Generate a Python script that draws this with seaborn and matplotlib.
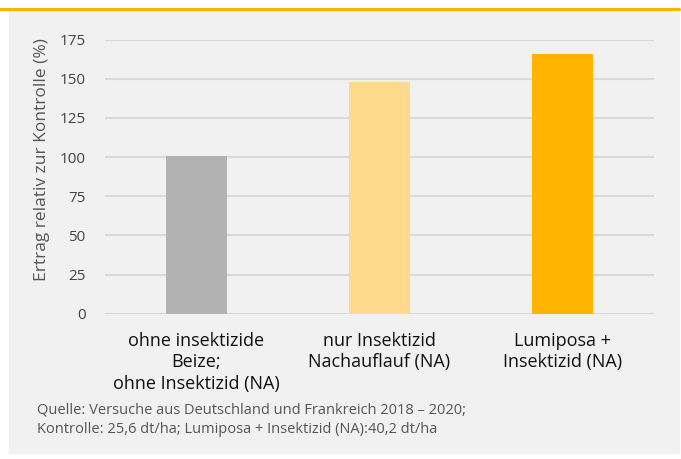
import matplotlib
matplotlib.use("Agg")
import matplotlib.pyplot as plt
import seaborn as sns
import pandas as pd

categories = ["ohne insektizide\nBeize;\nohne Insektizid (NA)",
              "nur Insektizid\nNachauflauf (NA)",
              "Lumiposa +\nInsektizid (NA)"]
values = [101, 148, 166]
bar_colors = ["#b2b2b2", "#ffd98c", "#ffb400"]
yticks = [0, 25, 50, 75, 100, 125, 150, 175]
ylabel = "Ertrag relativ zur Kontrolle (%)"
footer = ("Quelle: Versuche aus Deutschland und Frankreich 2018 \u2013 2020;\n"
          "Kontrolle: 25,6 dt/ha; Lumiposa + Insektizid (NA):40,2 dt/ha")

df = pd.DataFrame({"cat": categories, "val": values})

sns.set_style("white")
plt.rcParams["font.family"] = ["Open Sans", "DejaVu Sans"]

fig = plt.figure(figsize=(6.81, 4.59), dpi=100)
fig.patch.set_facecolor("white")

# grey panel and orange top rule
fig.add_artist(plt.Rectangle((9 / 681, 6 / 459), 670 / 681, 442 / 459,
                             transform=fig.transFigure, color="#f0f1f0", zorder=0))
fig.add_artist(plt.Line2D([0, 679 / 681], [450 / 459, 450 / 459], transform=fig.transFigure,
                          color="#ffb400", lw=2.2, zorder=1))

ax = fig.add_axes([105 / 681, 1 - 313.7 / 459, 549 / 681, 274 / 459])
ax.set_facecolor("none")
sns.barplot(data=df, x="cat", y="val", hue="cat", palette=bar_colors,
            legend=False, width=0.33, saturation=1, linewidth=0,
            edgecolor="none", ax=ax, zorder=3)

ax.set_ylim(0, 175)
ax.set_xlim(-0.5, 2.5)
ax.set_yticks(yticks)
ax.yaxis.grid(True, color="#d9d9d9", lw=1.5, zorder=0)
ax.set_axisbelow(True)
for s in ax.spines.values():
    s.set_visible(False)
ax.tick_params(axis="y", length=0, pad=14, labelsize=11, labelcolor="#444444")
ax.tick_params(axis="x", length=0, pad=13, labelsize=13, labelcolor="#111111")
for t in ax.get_xticklabels():
    t.set_linespacing(1.25)
ax.set_xlabel("")
ax.set_ylabel("")

fig.text(42 / 681, 1 - 160 / 459, ylabel, rotation=90, ha="center", va="center",
         fontsize=12.5, color="#555555")
fig.text(37 / 681, 1 - 420 / 459, footer, ha="left", va="center",
         fontsize=10.5, color="#555555", linespacing=1.4)

fig.savefig("out.png", dpi=100, facecolor=fig.get_facecolor())
